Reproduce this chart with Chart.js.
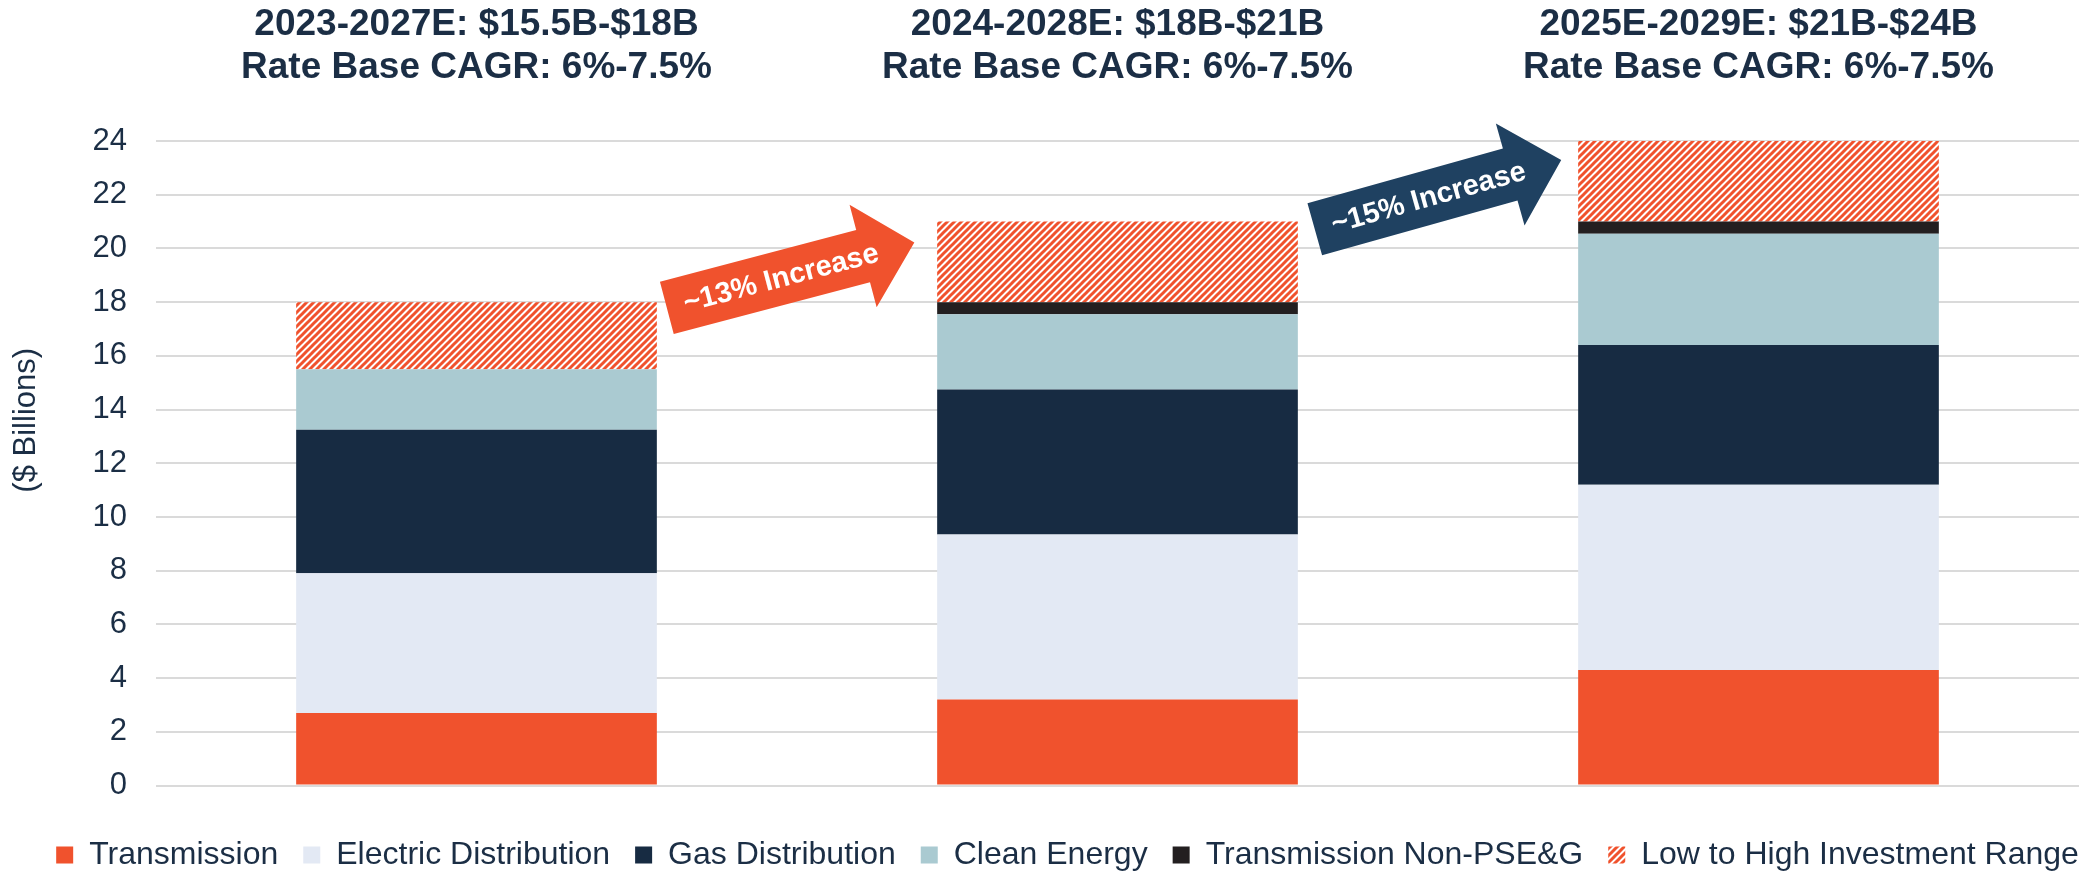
<!DOCTYPE html>
<html>
<head>
<meta charset="utf-8">
<script src="https://cdn.jsdelivr.net/npm/chart.js@4.4.1/dist/chart.umd.min.js"></script>
<style>
  html, body { margin: 0; padding: 0; background: #fff; }
  canvas { display: block; }
</style>
</head>
<body>
<canvas id="capexChart" width="2088" height="874"></canvas>
<script>
// data ($ billions)
const periods = [
    ['2023-2027E: $15.5B-$18B', 'Rate Base CAGR: 6%-7.5%'],
    ['2024-2028E: $18B-$21B', 'Rate Base CAGR: 6%-7.5%'],
    ['2025E-2029E: $21B-$24B', 'Rate Base CAGR: 6%-7.5%']
];
const transmission = [2.7, 3.2, 4.3];
const electricDistribution = [5.2, 6.15, 6.9];
const gasDistribution = [5.35, 5.4, 5.2];
const cleanEnergy = [2.25, 2.8, 4.15];
const transmissionNonPSEG = [0, 0.45, 0.45];
const investmentRange = [2.5, 3, 3];
const yMin = 0;
const yMax = 24;
const yStep = 2;
const yTitle = '($ Billions)';
const arrowLabels = ['~13% Increase', '~15% Increase'];

const textColor = '#1B2E45';
const fontFamily = '"Liberation Sans", Arial, Helvetica, sans-serif';

const canvas = document.getElementById('capexChart');
const ctx = canvas.getContext('2d');

const makeHatch = (color) => {
    var tile = document.createElement('canvas');
    tile.width = 7;
    tile.height = 7;
    var t = tile.getContext('2d');
    t.fillStyle = '#ffffff';
    t.fillRect(0, 0, 7, 7);
    t.strokeStyle = color;
    t.lineWidth = 3;
    t.beginPath();
    t.moveTo(0, 7); t.lineTo(7, 0);
    t.moveTo(-3.5, 3.5); t.lineTo(3.5, -3.5);
    t.moveTo(3.5, 10.5); t.lineTo(10.5, 3.5);
    t.stroke();
    return ctx.createPattern(tile, 'repeat');
};

// y axis title + the two "increase" arrows
const annotate = {
    id: 'annotate',
    afterDatasetsDraw(chart, args, opts) {
        const c = chart.ctx;
        const x = chart.scales.x;
        const y = chart.scales.y;

        c.save();
        c.translate(26, y.getPixelForValue(13.6));
        c.rotate(-Math.PI / 2);
        c.fillStyle = textColor;
        c.font = '31px ' + fontFamily;
        c.textAlign = 'center';
        c.textBaseline = 'middle';
        c.fillText(yTitle, 0, 0);
        c.restore();

        arrowLabels.forEach((label, i) => {
            const a = opts.arrows[i];
            c.save();
            c.translate(x.getPixelForValue(a.x), y.getPixelForValue(a.y));
            c.rotate(a.angle * Math.PI / 180);
            c.beginPath();
            c.moveTo(-128, -27);
            c.lineTo(75, -27);
            c.lineTo(75, -53);
            c.lineTo(128, 0);
            c.lineTo(75, 53);
            c.lineTo(75, 27);
            c.lineTo(-128, 27);
            c.closePath();
            c.fillStyle = a.color;
            c.fill();
            c.fillStyle = '#ffffff';
            c.font = 'bold 29px ' + fontFamily;
            c.textAlign = 'center';
            c.textBaseline = 'middle';
            c.fillText(label, -10, 1);
            c.restore();
        });
    }
};

// push the legend row a little to the right, like the slide
const legendNudge = {
    id: 'legendNudge',
    afterLayout(chart) {
        chart.legend.left += 28;
        chart.legend.right += 28;
    }
};

const chartData = {
    labels: periods,
    datasets: [
        { label: 'Transmission', data: transmission, backgroundColor: '#F0522D' },
        { label: 'Electric Distribution', data: electricDistribution, backgroundColor: '#E3E9F4' },
        { label: 'Gas Distribution', data: gasDistribution, backgroundColor: '#172B42' },
        { label: 'Clean Energy', data: cleanEnergy, backgroundColor: '#AACAD1' },
        { label: 'Transmission Non-PSE&G', data: transmissionNonPSEG, backgroundColor: '#231F20' },
        { label: 'Low to High Investment Range', data: investmentRange, backgroundColor: makeHatch('#F0522D') }
    ]
};

const config = {
    type: 'bar',
    data: chartData,
    options: {
        responsive: false,
        animation: false,
        devicePixelRatio: 1,
        layout: {
            padding: { left: 0, right: 9, top: 0, bottom: -7 }
        },
        datasets: {
            bar: {
                borderWidth: 0,
                categoryPercentage: 1,
                barPercentage: 0.5627
            }
        },
        scales: {
            x: {
                position: 'top',
                stacked: true,
                grid: { display: false },
                border: { display: false },
                ticks: {
                    color: textColor,
                    font: { family: fontFamily, size: 37, weight: 'bold', lineHeight: 1.15 },
                    padding: 44,
                    maxRotation: 0,
                    autoSkip: false
                },
                afterFit: (scale) => { scale.height = 141; }
            },
            y: {
                stacked: true,
                min: yMin,
                max: yMax,
                grid: { color: '#DADADA', lineWidth: 2, drawTicks: false },
                border: { display: false },
                ticks: {
                    stepSize: yStep,
                    color: textColor,
                    font: { family: fontFamily, size: 31 },
                    padding: 29
                },
                afterFit: (scale) => { scale.width = 156; }
            }
        },
        plugins: {
            legend: {
                position: 'bottom',
                title: { display: true, text: '', font: { size: 10, lineHeight: 1.25 }, padding: 8 },
                labels: {
                    color: textColor,
                    font: { family: fontFamily, size: 32 },
                    boxWidth: 17,
                    boxHeight: 17,
                    padding: 25
                }
            },
            tooltip: { enabled: false },
            annotate: {
                arrows: [
                    { x: 0.49, y: 19.0, angle: -14.8, color: '#F0522D' },
                    { x: 1.5, y: 22.0, angle: -15.7, color: '#1F4161' }
                ]
            }
        }
    },
    plugins: [annotate, legendNudge]
};

var myChart = new Chart(canvas, config);
</script>
</body>
</html>
